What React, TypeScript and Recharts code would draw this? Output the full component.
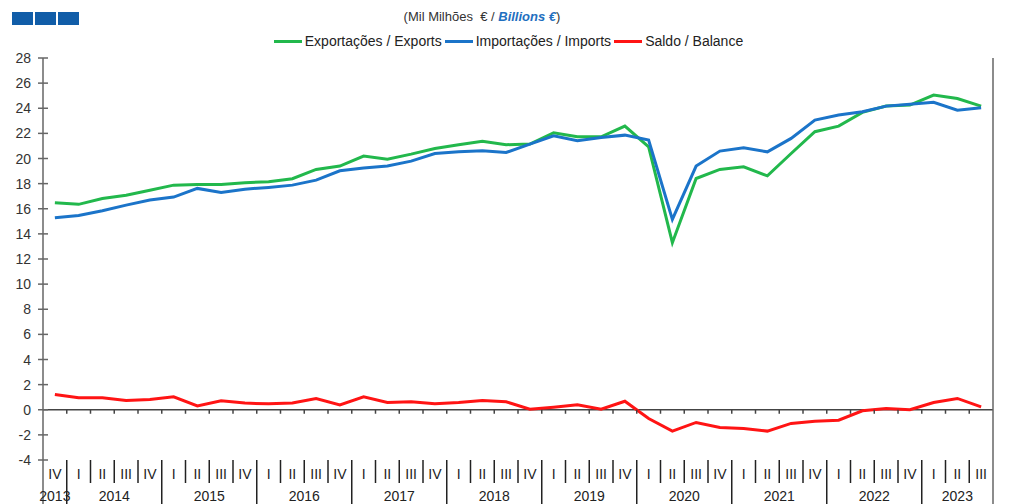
import React from 'react';
import { LineChart, Line, XAxis, YAxis, ReferenceLine, Legend } from 'recharts';

const categories = [
  '2013 IV',
  '2014 I', '2014 II', '2014 III', '2014 IV',
  '2015 I', '2015 II', '2015 III', '2015 IV',
  '2016 I', '2016 II', '2016 III', '2016 IV',
  '2017 I', '2017 II', '2017 III', '2017 IV',
  '2018 I', '2018 II', '2018 III', '2018 IV',
  '2019 I', '2019 II', '2019 III', '2019 IV',
  '2020 I', '2020 II', '2020 III', '2020 IV',
  '2021 I', '2021 II', '2021 III', '2021 IV',
  '2022 I', '2022 II', '2022 III', '2022 IV',
  '2023 I', '2023 II', '2023 III',
];

const exportsBn = [
  16.47, 16.35, 16.82, 17.08, 17.48, 17.88, 17.93, 17.93, 18.07, 18.15,
  18.39, 19.13, 19.4, 20.19, 19.95, 20.35, 20.8, 21.1, 21.38, 21.1,
  21.15, 22.05, 21.73, 21.73, 22.58, 20.93, 13.3, 18.41, 19.13, 19.34,
  18.62, 20.4, 22.13, 22.58, 23.67, 24.17, 24.25, 25.05, 24.78, 24.17,
];

const importsBn = [
  15.28, 15.47, 15.84, 16.29, 16.69, 16.93, 17.62, 17.3, 17.56, 17.7,
  17.88, 18.28, 19.02, 19.24, 19.4, 19.79, 20.4, 20.53, 20.61, 20.48,
  21.15, 21.81, 21.41, 21.68, 21.86, 21.47, 15.15, 19.4, 20.59, 20.85,
  20.53, 21.6, 23.06, 23.46, 23.72, 24.17, 24.31, 24.47, 23.85, 24.04,
];

const balanceBn = [
  1.22, 0.95, 0.95, 0.74, 0.82, 1.03, 0.31, 0.71, 0.53, 0.47,
  0.53, 0.9, 0.39, 1.03, 0.58, 0.63, 0.47, 0.58, 0.74, 0.63,
  0.05, 0.2, 0.39, 0.05, 0.68, -0.7, -1.7, -1.01, -1.41, -1.49,
  -1.7, -1.09, -0.91, -0.83, -0.08, 0.1, 0.0, 0.58, 0.9, 0.23,
];

const yTicks = [-4, -2, 0, 2, 4, 6, 8, 10, 12, 14, 16, 18, 20, 22, 24, 26, 28];

const seriesNames = ['Exportações / Exports', 'Importações / Imports', 'Saldo / Balance'];
const seriesColors = ['#22b84c', '#1b74c9', '#ff1414'];

const data = categories.map((period, i) => ({
  period,
  exp: exportsBn[i],
  imp: importsBn[i],
  bal: balanceBn[i],
}));

// chart geometry
const W = 1023;
const H = 504;
const LEFT_W = 43;
const RIGHT_W = 30;
const TOP = 58;
const X_H = 44;
const PLOT_W = W - LEFT_W - RIGHT_W;
const PLOT_H = H - TOP - X_H;
const BAND = PLOT_W / categories.length;
const Y_MIN = yTicks[0];
const Y_MAX = yTicks[yTicks.length - 1];
const ZERO_Y = TOP + (Y_MAX / (Y_MAX - Y_MIN)) * PLOT_H;

const FONT = '"Liberation Sans", Arial, sans-serif';
const AXIS = '#666';
const INK = '#222';

// first index and count of quarters per year
const yearGroups: Record<string, { start: number; count: number }> = {};
categories.forEach((c, i) => {
  const y = c.split(' ')[0];
  if (!yearGroups[y]) yearGroups[y] = { start: i, count: 0 };
  yearGroups[y].count += 1;
});

const XTick = (props: any) => {
  const { x, y, index } = props;
  const [year, q] = categories[index].split(' ');
  const half = BAND / 2;
  const g = yearGroups[year];
  const center = g.start + (g.count - 1) / 2;
  const last = index === categories.length - 1;
  const yearEnd = index === g.start + g.count - 1;
  return (
    <g>
      {!last && (
        <line x1={x + half} x2={x + half} y1={ZERO_Y} y2={ZERO_Y + 4} stroke="#444" strokeWidth={1.5} />
      )}
      {index === 0 && <line x1={x - half} x2={x - half} y1={y} y2={H} stroke={AXIS} strokeWidth={1.5} />}
      <line
        x1={x + half}
        x2={x + half}
        y1={y}
        y2={yearEnd || last ? H : y + 23}
        stroke={last ? AXIS : INK}
        strokeWidth={1.5}
      />
      <text x={x} y={y + 19} textAnchor="middle" fontSize={14} fill={INK} fontFamily={FONT}>
        {q}
      </text>
      {Math.floor(center) === index && (
        <text x={x + (center - index) * BAND} y={H - 3} textAnchor="middle" fontSize={14} fill={INK} fontFamily={FONT}>
          {year}
        </text>
      )}
    </g>
  );
};

const LeftTick = ({ x, y, payload }: any) => (
  <g>
    <line x1={x - 5} x2={x + 5} y1={y} y2={y} stroke={AXIS} strokeWidth={1.5} />
    <text x={x - 12} y={y} dy={5} textAnchor="end" fontSize={14} fill="#333" fontFamily={FONT}>
      {payload.value}
    </text>
  </g>
);

const RightTick = ({ x, y, payload }: any) => (
  <g>
    <line x1={x - 5} x2={x + 5} y1={y} y2={y} stroke={AXIS} strokeWidth={1.5} />
    <text x={x + 9} y={y} dy={5} textAnchor="start" fontSize={14} fill="#333" fontFamily={FONT}>
      {payload.value}
    </text>
  </g>
);

const LegendRow = () => (
  <div style={{ display: 'flex', justifyContent: 'center', alignItems: 'center', fontFamily: FONT, fontSize: 14, color: INK }}>
    {seriesNames.map((n, i) => (
      <div key={n} style={{ display: 'flex', alignItems: 'center', marginRight: 3 }}>
        <div style={{ width: 28, height: 3, background: seriesColors[i], marginRight: 3 }} />
        <span>{n}</span>
      </div>
    ))}
  </div>
);

const App = () => {
  return (
    <div style={{ position: 'absolute', left: 0, top: 0, width: W, height: H, background: '#fff' }}>
      <div style={{ position: 'absolute', left: 12, top: 12, display: 'flex', gap: 2 }}>
        {[0, 1, 2].map((k) => (
          <div key={k} style={{ width: 21, height: 13, background: '#115da8' }} />
        ))}
      </div>
      <div
        style={{
          position: 'absolute',
          left: 0,
          top: 9,
          width: 964,
          textAlign: 'center',
          fontFamily: FONT,
          fontSize: 13,
          color: '#333',
          whiteSpace: 'pre',
        }}
      >
        {'(Mil Milhões  € / '}
        <span style={{ color: '#1f6fc0', fontWeight: 'bold', fontStyle: 'italic' }}>Billions €</span>)
      </div>
      <LineChart width={W} height={H} data={data} margin={{ top: TOP, right: 0, bottom: 0, left: 0 }}>
        <XAxis
          dataKey="period"
          height={X_H}
          interval={0}
          padding={{ left: BAND / 2, right: BAND / 2 }}
          axisLine={false}
          tickLine={false}
          tickSize={0}
          tickMargin={0}
          tick={<XTick />}
        />
        <YAxis
          yAxisId="left"
          width={LEFT_W}
          domain={[Y_MIN, Y_MAX]}
          ticks={yTicks}
          interval={0}
          axisLine={{ stroke: AXIS, strokeWidth: 1.5 }}
          tickLine={false}
          tickSize={0}
          tickMargin={0}
          tick={<LeftTick />}
        />
        <YAxis
          yAxisId="right"
          orientation="right"
          width={RIGHT_W}
          domain={[Y_MIN, Y_MAX]}
          ticks={yTicks}
          interval={0}
          axisLine={{ stroke: AXIS, strokeWidth: 1.5 }}
          tickLine={false}
          tickSize={0}
          tickMargin={0}
          tick={<RightTick />}
        />
        <ReferenceLine yAxisId="left" y={0} stroke="#444" strokeWidth={1.5} />
        <Legend
          layout="horizontal"
          verticalAlign="middle"
          align="center"
          wrapperStyle={{ top: 33, left: 0, width: 1020 }}
          content={() => <LegendRow />}
        />
        <Line yAxisId="left" dataKey="exp" name={seriesNames[0]} stroke={seriesColors[0]} strokeWidth={3} dot={false} isAnimationActive={false} />
        <Line yAxisId="left" dataKey="imp" name={seriesNames[1]} stroke={seriesColors[1]} strokeWidth={3} dot={false} isAnimationActive={false} />
        <Line yAxisId="left" dataKey="bal" name={seriesNames[2]} stroke={seriesColors[2]} strokeWidth={3} dot={false} isAnimationActive={false} />
      </LineChart>
    </div>
  );
};

export default App;
